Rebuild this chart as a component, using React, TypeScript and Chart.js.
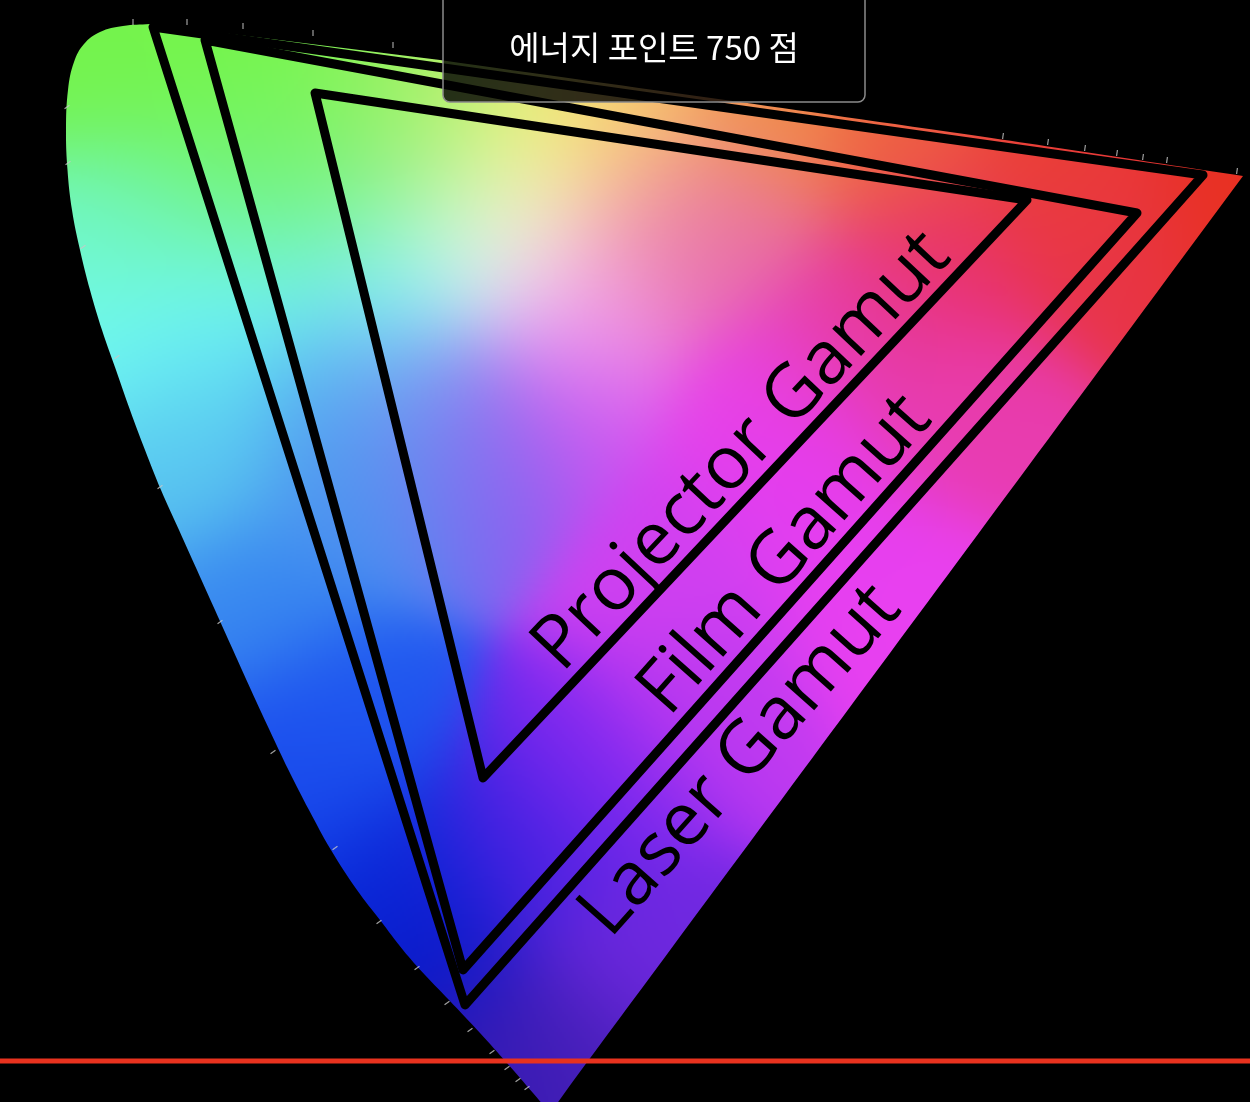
import React, { useEffect, useRef } from 'react';
import { Chart, registerables } from 'chart.js';

Chart.register(...registerables);

// plot units: x 0..1250 left to right, y 0..1102 top to bottom
// the two sharp corners of the locus (bottom tip, red corner) are listed twice so the spline keeps them sharp
const LOCUS_X = [150, 123, 100, 84, 74, 68, 66, 67.5, 72, 80, 90, 102, 116, 130, 145, 161, 179, 197, 215, 233, 251, 269.5, 288.5, 309, 331, 357, 380, 403, 425, 449, 480, 507, 533, 550, 550, 1243, 1243, 950, 440];
const LOCUS_Y = [24, 26, 32, 44, 62, 90, 130, 170, 210, 250, 290, 330, 370, 410, 450, 490, 530, 570, 610, 650, 690, 730, 770, 810, 850, 890, 920, 950, 975, 1000, 1033, 1063, 1093, 1113, 1113, 176, 176, 132, 60];

// wavelength tick marks along the outside of the locus
const TICK_X = [67, 68, 83, 117, 160, 220, 273, 335, 379, 417, 447, 470, 492, 507, 518, 527, 133, 187, 243, 313, 393, 1003, 1048, 1085, 1117, 1143, 1167, 1237];
const TICK_Y = [107, 163, 247, 357, 487, 622, 752, 848, 922, 968, 1003, 1030, 1052, 1068, 1080, 1088, 22, 22, 26, 33, 45, 136, 142, 148, 153, 157, 160, 171];

const GAMUT_NAMES = ['Projector Gamut', 'Film Gamut', 'Laser Gamut'];
// vertices: top-left, right (red), bottom (blue)
const PROJECTOR_X = [315, 1027, 483];
const PROJECTOR_Y = [93, 200, 778];
const FILM_X = [205, 1137, 463];
const FILM_Y = [40, 213, 970];
const LASER_X = [153, 1203, 465];
const LASER_Y = [27, 175, 1005];

const ENERGY_LABEL = '에너지 포인트';
const ENERGY_POINTS = 750;
const ENERGY_UNIT = '점';

const PROGRESS_X = [0, 1250];
const PROGRESS_Y = 1061;

// colour field painted inside the locus: [x, y, colour]
const COLOR_FIELD: [number, number, string][] = [
  [110, 60, '#74f24c'], [200, 40, '#76f545'], [330, 60, '#7af548'], [250, 120, '#74f452'],
  [180, 100, '#74f450'], [300, 150, '#78f458'], [380, 130, '#84f262'], [430, 75, '#b8f25c'],
  [400, 110, '#90f068'], [455, 130, '#b8f070'], [430, 175, '#b0f0a0'], [350, 200, '#70f0a8'],
  [250, 180, '#72f290'],
  [520, 110, '#f8f070'], [535, 140, '#f8f070'], [510, 185, '#fcfac0'], [620, 105, '#f8c860'],
  [620, 180, '#f4b090'], [760, 120, '#f09048'], [900, 140, '#ee6040'], [1050, 160, '#ea4030'],
  [1225, 182, '#e83020'], [1100, 230, '#e83448'], [950, 260, '#e8306a'], [850, 330, '#e63aa0'],
  [720, 230, '#e870a8'], [640, 250, '#e870b0'], [560, 275, '#f8c0f0'], [575, 320, '#f090f0'],
  [505, 232, '#fffafc'], [460, 245, '#c8fcf8'], [400, 265, '#80faf8'], [280, 260, '#70f8e8'],
  [160, 200, '#70f2b0'], [120, 250, '#70f8c8'], [110, 340, '#70fbf5'], [200, 330, '#70faf8'],
  [380, 330, '#78e0f8'], [200, 400, '#5ad0f0'], [330, 400, '#50a8f0'], [400, 420, '#6090f0'],
  [450, 400, '#9080f0'], [180, 460, '#58c0f0'], [350, 480, '#4a90f0'], [480, 450, '#8060f0'],
  [560, 400, '#d050f0'], [250, 600, '#3888f0'], [300, 780, '#1848ec'], [330, 720, '#2058f0'],
  [380, 880, '#0828d8'], [430, 960, '#0818c8'], [500, 1060, '#3018b0'], [560, 1050, '#4a20b8'],
  [520, 850, '#4020e0'], [600, 780, '#8028f0'], [700, 700, '#c03af0'], [680, 560, '#d040f0'],
  [800, 480, '#e43cf0'], [880, 600, '#e840f0'], [760, 400, '#e840e8'], [950, 400, '#e83cb0'],
  [620, 950, '#7028e0'],
];

const pts = (xs: number[], ys: number[]) => xs.map((x, i) => ({ x, y: ys[i] }));
const tri = (xs: number[], ys: number[]) => [...pts(xs, ys), { x: xs[0], y: ys[0] }];

function hexRgb(h: string) {
  const n = parseInt(h.slice(1), 16);
  return [(n >> 16) & 255, (n >> 8) & 255, n & 255];
}

function buildFieldPattern(chart: any) {
  const { ctx, width, height } = chart;
  const sx = chart.scales.x;
  const sy = chart.scales.y;
  const k = 2;
  const w = Math.ceil(width / k);
  const h = Math.ceil(height / k);
  const small = document.createElement('canvas');
  small.width = w;
  small.height = h;
  const sctx = small.getContext('2d')!;
  const img = sctx.createImageData(w, h);
  const anchors = COLOR_FIELD.map(([x, y, c]) => {
    const [r, g, b] = hexRgb(c);
    return { px: sx.getPixelForValue(x) / k, py: sy.getPixelForValue(y) / k, r, g, b };
  });
  const sigma = 62 / k;
  const s2 = 2 * sigma * sigma;
  const d2 = new Float64Array(anchors.length);
  for (let j = 0; j < h; j++) {
    for (let i = 0; i < w; i++) {
      let min = Infinity;
      for (let a = 0; a < anchors.length; a++) {
        const dx = i - anchors[a].px;
        const dy = j - anchors[a].py;
        d2[a] = dx * dx + dy * dy;
        if (d2[a] < min) min = d2[a];
      }
      let sw = 0, r = 0, g = 0, b = 0;
      for (let a = 0; a < anchors.length; a++) {
        const wt = Math.exp(-(d2[a] - min) / s2);
        sw += wt;
        r += wt * anchors[a].r;
        g += wt * anchors[a].g;
        b += wt * anchors[a].b;
      }
      const o = (j * w + i) * 4;
      img.data[o] = r / sw;
      img.data[o + 1] = g / sw;
      img.data[o + 2] = b / sw;
      img.data[o + 3] = 255;
    }
  }
  sctx.putImageData(img, 0, 0);
  const big = document.createElement('canvas');
  big.width = width;
  big.height = height;
  const bctx = big.getContext('2d')!;
  bctx.imageSmoothingEnabled = true;
  bctx.imageSmoothingQuality = 'high';
  bctx.drawImage(small, 0, 0, w * k, h * k);
  return ctx.createPattern(big, 'no-repeat');
}

const gamutLabels = {
  id: 'gamutLabels',
  afterDatasetsDraw(chart: any, _args: any, opts: any) {
    const { ctx } = chart;
    ctx.save();
    ctx.fillStyle = opts.color;
    ctx.font = `${opts.weight} ${opts.size}px ${opts.family}`;
    ctx.textBaseline = 'alphabetic';
    ctx.textAlign = 'left';
    opts.placement.forEach((p: any, i: number) => {
      const meta = chart.getDatasetMeta(p.dataset);
      const r = meta.data[1];
      const b = meta.data[2];
      const dx = r.x - b.x;
      const dy = r.y - b.y;
      const len = Math.hypot(dx, dy);
      const ux = dx / len;
      const uy = dy / len;
      const nx = uy;
      const ny = -ux;
      ctx.save();
      ctx.translate(b.x + ux * p.along + nx * p.offset, b.y + uy * p.along + ny * p.offset);
      ctx.rotate(Math.atan2(uy, ux));
      ctx.fillText(GAMUT_NAMES[i], 0, 0);
      ctx.restore();
    });
    ctx.restore();
  },
};

const energyBadge = {
  id: 'energyBadge',
  afterDraw(chart: any, _args: any, o: any) {
    const { ctx } = chart;
    ctx.save();
    ctx.beginPath();
    ctx.roundRect(o.left, o.top, o.width, o.height, o.radius);
    ctx.fillStyle = 'rgba(0,0,0,0.8)';
    ctx.fill();
    ctx.lineWidth = 1.5;
    ctx.strokeStyle = '#8a8a8a';
    ctx.stroke();
    ctx.fillStyle = '#ffffff';
    ctx.font = '33px "Noto Sans CJK KR"';
    ctx.textAlign = 'center';
    ctx.textBaseline = 'middle';
    ctx.fillText(`${ENERGY_LABEL} ${ENERGY_POINTS} ${ENERGY_UNIT}`, o.left + o.width / 2, o.textY);
    ctx.restore();
  },
};

export default function App() {
  const canvasRef = useRef<HTMLCanvasElement>(null);
  const chartRef = useRef<Chart | null>(null);

  useEffect(() => {
    if (!canvasRef.current) return;
    const ctx = canvasRef.current.getContext('2d');
    if (!ctx) return;
    if (chartRef.current) chartRef.current.destroy();

    let fieldPattern: CanvasPattern | null = null;
    const triangleStyle = {
      showLine: true,
      borderColor: '#000000',
      borderWidth: 9,
      borderJoinStyle: 'round' as const,
      borderCapStyle: 'round' as const,
      pointRadius: 0,
      fill: false,
      tension: 0,
    };

    chartRef.current = new Chart(ctx, {
      type: 'scatter',
      data: {
        datasets: [
          {
            label: 'progress',
            data: PROGRESS_X.map(x => ({ x, y: PROGRESS_Y })),
            showLine: true,
            borderColor: '#e8321e',
            borderWidth: 5,
            pointRadius: 0,
            order: 0,
          },
          { label: GAMUT_NAMES[0], data: tri(PROJECTOR_X, PROJECTOR_Y), ...triangleStyle, order: 1 },
          { label: GAMUT_NAMES[1], data: tri(FILM_X, FILM_Y), ...triangleStyle, order: 2 },
          { label: GAMUT_NAMES[2], data: tri(LASER_X, LASER_Y), ...triangleStyle, order: 3 },
          {
            label: 'ticks',
            data: pts(TICK_X, TICK_Y),
            pointStyle: 'line',
            pointRadius: 3,
            pointBorderWidth: 1.2,
            pointBorderColor: 'rgba(200,200,200,0.8)',
            pointRotation: (c: any) => (c.raw && c.raw.y < 60 ? 90 : c.raw && c.raw.x > 900 ? 98 : -35),
            order: 4,
          },
          {
            label: 'locus',
            data: pts(LOCUS_X, LOCUS_Y),
            showLine: true,
            borderWidth: 0,
            borderColor: 'rgba(0,0,0,0)',
            pointRadius: 0,
            tension: 0.4,
            fill: 'shape',
            backgroundColor: (c: any) => {
              const chart = c.chart;
              if (!chart.chartArea) return 'rgba(0,0,0,0)';
              if (!fieldPattern) fieldPattern = buildFieldPattern(chart);
              return fieldPattern;
            },
            order: 5,
          },
        ],
      },
      options: {
        responsive: false,
        animation: false,
        events: [],
        layout: { padding: 0, autoPadding: false },
        scales: {
          x: { type: 'linear', min: 0, max: 1250, display: false },
          y: { type: 'linear', min: 0, max: 1102, reverse: true, display: false },
        },
        plugins: {
          legend: { display: false },
          tooltip: { enabled: false },
          gamutLabels: {
            color: '#000000',
            size: 74,
            weight: 500,
            family: '"Open Sans"',
            placement: [
              { dataset: 1, along: 130, offset: 14 },
              { dataset: 2, along: 325, offset: 14 },
              { dataset: 3, along: 145, offset: -65 },
            ],
          },
          energyBadge: { left: 443, top: -10, width: 422, height: 112, radius: 7, textY: 47 },
        } as any,
      },
      plugins: [gamutLabels, energyBadge],
    });

    return () => {
      if (chartRef.current) chartRef.current.destroy();
      chartRef.current = null;
    };
  }, []);

  return (
    <div style={{ position: 'fixed', left: 0, top: 0, width: 1250, height: 1102, background: '#000' }}>
      <canvas ref={canvasRef} width={1250} height={1102} style={{ display: 'block' }} />
    </div>
  );
}
